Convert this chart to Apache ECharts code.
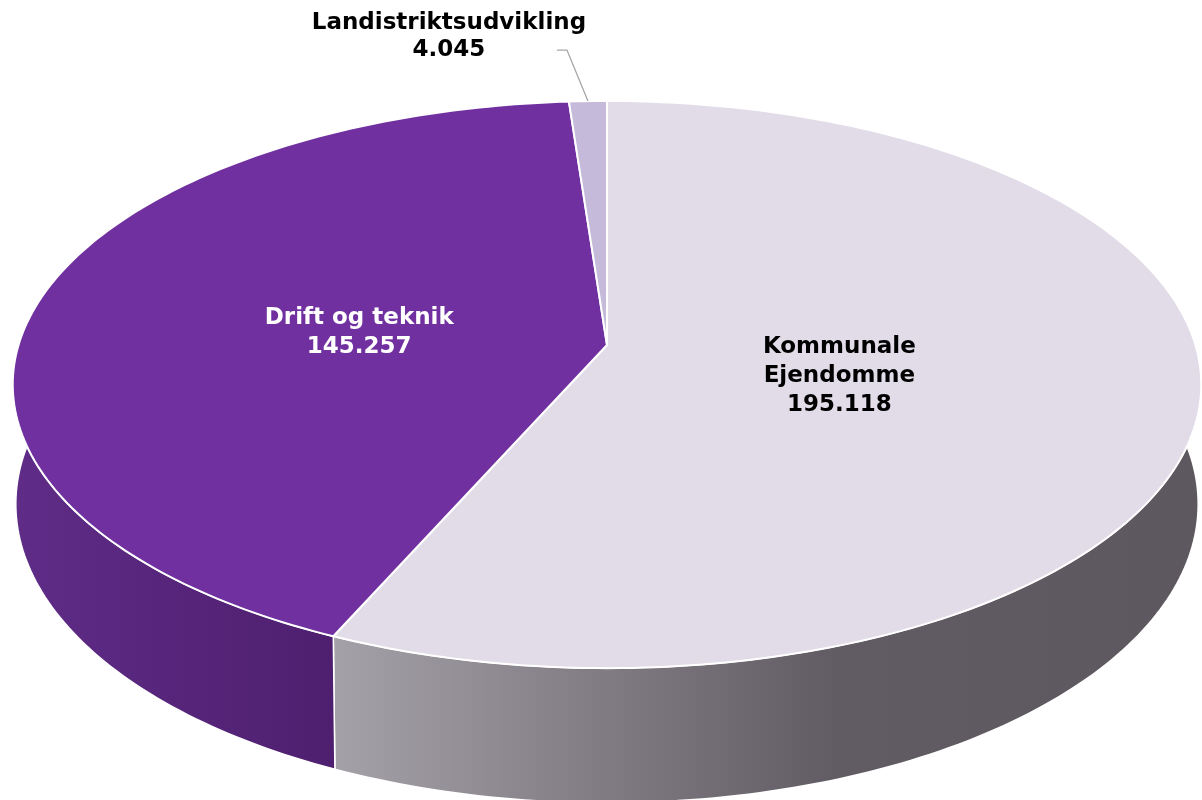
<!DOCTYPE html>
<html>
<head>
<meta charset="utf-8">
<title>3D pie</title>
<script src="https://cdn.jsdelivr.net/npm/echarts@6/dist/echarts.min.js"></script>
<style>
  html, body { margin: 0; padding: 0; background: #fff; }
  #main { width: 1202px; height: 800px; }
</style>
</head>
<body>
<div id="main"></div>
<script>
// data
var categories = ['Kommunale Ejendomme', 'Drift og teknik', 'Landistriktsudvikling'];
var values = [195118, 145257, 4045];
var topColors = ['#E1DCE8', '#7030A0', '#C5BAD9'];
var sideColors = [
  [[0, '#A5A1A8'], [0.3, '#827D84'], [0.58, '#615C63'], [1, '#5D585F']],
  [[0, '#5F2C87'], [1, '#4E1F6F']],
  [[0, '#A99CC0'], [1, '#9A8DB2']]
];
var labelColors = ['#000', '#fff', '#000'];

// projection of the tilted disc (perspective, like excel's 3d pie)
var cx = 607, cy = 345, f = 3719, D = 6.32, tilt = 28.2 * Math.PI / 180, H = 0.228;
var ct = Math.cos(tilt), st = Math.sin(tilt);
var total = values.reduce(function (a, b) { return a + b; }, 0);
var starts = [];
var acc = 0;
for (var i = 0; i < values.length; i++) { starts.push(acc / total * 360); acc += values[i]; }

function proj(theta, r, y) {
  var a = theta * Math.PI / 180;
  var X = Math.sin(a) * r, Z = -Math.cos(a) * r;
  var v = Z * st - y * ct;
  var d = D - Z * ct - y * st * 0.3;
  return [cx + f * X / d, cy + f * v / d];
}
function fmt(v) {
  return String(v).replace(/\B(?=(\d{3})+(?!\d))/g, '.');
}
function wrap(name) {
  return name.length > 16 ? name.replace(/ /g, '\n') : name;
}

function renderItem(params, api) {
  var idx = params.dataIndex;
  var val = api.value(0);
  var a0 = starts[idx];
  var a1 = a0 + val / total * 360;
  var children = [];
  var k, n, t;

  // outer wall, only the front part is visible
  var w0 = Math.max(a0, 80), w1 = Math.min(a1, 280);
  if (w1 > w0) {
    var topArc = [], botArc = [];
    n = Math.max(2, Math.ceil(w1 - w0));
    for (k = 0; k <= n; k++) {
      t = w0 + (w1 - w0) * k / n;
      topArc.push(proj(t, 1, 0));
      botArc.push(proj(t, 1, -H));
    }
    var pts = topArc.concat(botArc.reverse());
    children.push({
      type: 'polygon',
      z2: 1,
      shape: { points: pts },
      style: {
        fill: new echarts.graphic.LinearGradient(0, 0, 1, 0, sideColors[idx].map(function (s) {
          return { offset: s[0], color: s[1] };
        })),
        stroke: '#fff',
        lineWidth: 1.5
      }
    });
  }

  // top face
  var top = [proj(0, 0, 0)];
  n = Math.max(2, Math.ceil(a1 - a0));
  for (k = 0; k <= n; k++) {
    t = a0 + (a1 - a0) * k / n;
    top.push(proj(t, 1, 0));
  }
  children.push({
    type: 'polygon',
    z2: 10,
    shape: { points: top },
    style: { fill: topColors[idx], stroke: '#fff', lineWidth: 2 }
  });

  // label
  var mid = (a0 + a1) / 2;
  var font = 'bold 23px "DejaVu Sans", Verdana, sans-serif';
  if (val / total > 0.05) {
    // radius from the sector centroid
    var half = (a1 - a0) / 2 * Math.PI / 180;
    var rc = 2 / 3 * Math.sin(half) / half;
    var lp = proj(mid, 0.3 + 0.27 * rc, 0);
    children.push({
      type: 'text',
      z2: 20,
      x: lp[0],
      y: lp[1] + 8,
      style: {
        text: wrap(categories[idx]) + '\n' + fmt(val),
        font: font,
        lineHeight: 29,
        fill: labelColors[idx],
        align: 'center',
        verticalAlign: 'middle'
      }
    });
  } else {
    var e = proj(mid, 1, 0);
    var elbow = [e[0] - 21, e[1] - 51];
    var end = [elbow[0] - 10, elbow[1]];
    children.push({
      type: 'polyline',
      z2: 20,
      shape: { points: [e, elbow, end] },
      style: { stroke: '#A6A6A6', lineWidth: 1.3, fill: null }
    });
    children.push({
      type: 'text',
      z2: 20,
      x: end[0] - 108,
      y: end[1] - 14,
      style: {
        text: categories[idx] + '\n' + fmt(val),
        font: font,
        lineHeight: 27,
        fill: labelColors[idx],
        align: 'center',
        verticalAlign: 'middle'
      }
    });
  }
  return { type: 'group', children: children };
}

var chart = echarts.init(document.getElementById('main'));
chart.setOption({
  animation: false,
  backgroundColor: '#fff',
  series: [{
    type: 'custom',
    coordinateSystem: 'none',
    renderItem: renderItem,
    data: values.map(function (v, i) { return { name: categories[i], value: [v] }; })
  }]
});
</script>
</body>
</html>
